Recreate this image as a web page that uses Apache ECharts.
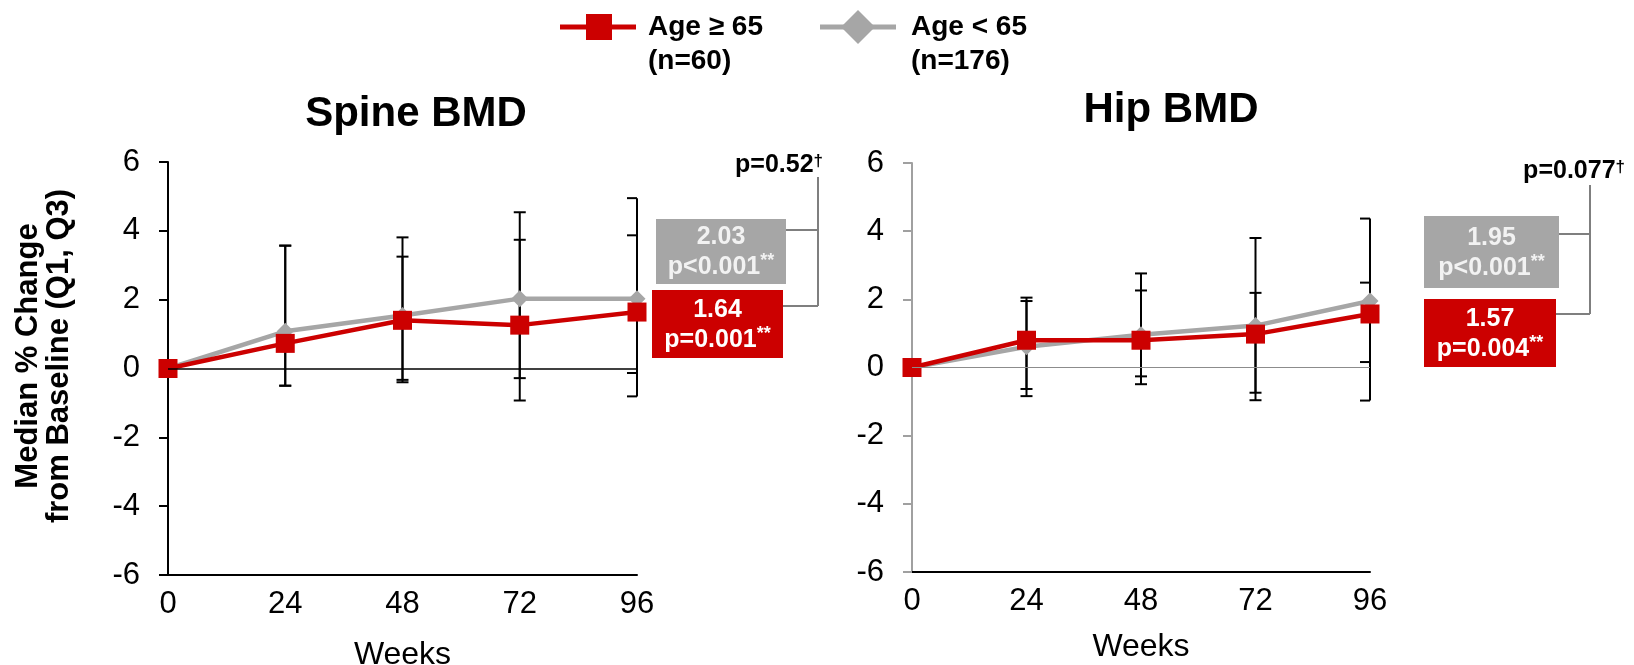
<!DOCTYPE html>
<html>
<head>
<meta charset="utf-8">
<script src="https://cdn.jsdelivr.net/npm/echarts@6/dist/echarts.min.js"></script>
<style>
html,body{margin:0;padding:0;background:#fff;}
#chart{width:1634px;height:665px;}
</style>
</head>
<body>
<div id="chart"></div>
<script>
// ---- data ----
const weeks = [0, 24, 48, 72, 96];
const seriesNames = ['Age \u2265 65', 'Age < 65'];
const seriesN = ['(n=60)', '(n=176)'];
const panelTitles = ['Spine BMD', 'Hip BMD'];

const spineAge65Plus  = [0, 0.73, 1.40, 1.26, 1.64];
const spineAgeUnder65 = [0, 1.08, 1.54, 2.03, 2.03];
const hipAge65Plus    = [0, 0.80, 0.80, 0.98, 1.57];
const hipAgeUnder65   = [0, 0.61, 0.96, 1.23, 1.95];

// Q1 / Q3 (null = no bar)
const spineQ1_65Plus  = [null, -0.50, -0.40, -0.93, -0.81];
const spineQ3_65Plus  = [null,  3.57,  3.81,  4.54,  4.95];
const spineQ1_Under65 = [null, -0.50, -0.33, -0.28, -0.13];
const spineQ3_Under65 = [null,  3.57,  3.25,  3.74,  3.87];
const hipQ1_65Plus    = [null, -0.84, -0.49, -0.96, -0.97];
const hipQ3_65Plus    = [null,  2.05,  2.76,  3.80,  4.37];
const hipQ1_Under65   = [null, -0.63, -0.26, -0.74,  0.16];
const hipQ3_Under65   = [null,  1.95,  2.26,  2.19,  2.49];

// end-of-study annotations
const spineLabels = ['1.64', 'p=0.001', '2.03', 'p<0.001', 'p=0.52'];
const hipLabels   = ['1.57', 'p=0.004', '1.95', 'p<0.001', 'p=0.077'];

// ---- styling ----
const FONT = '"Liberation Sans", Arial, sans-serif';
const RED = '#cc0000';
const GRAY = '#a6a6a6';

function pairs(xs, ys){ return xs.map((x,i)=>[x, ys[i]]); }
function bars(xs, lo, hi){
  const out = [];
  xs.forEach((x,i)=>{ if (lo[i] !== null) out.push([x, lo[i], hi[i]]); });
  return out;
}

function errRender(params, api){
  const x = api.value(0), lo = api.value(1), hi = api.value(2);
  const a = api.coord([x, lo]), b = api.coord([x, hi]);
  const last = x === weeks[weeks.length-1];
  const l = last ? 10 : 6, r = last ? 0 : 6;
  const st = {stroke:'#000', lineWidth:2};
  return {type:'group', children:[
    {type:'line', shape:{x1:a[0], y1:a[1], x2:b[0], y2:b[1]}, style:st},
    {type:'line', shape:{x1:a[0]-l, y1:a[1], x2:a[0]+r, y2:a[1]}, style:st},
    {type:'line', shape:{x1:b[0]-l, y1:b[1], x2:b[0]+r, y2:b[1]}, style:st}
  ]};
}

function xAxisCfg(idx, gap){
  return {
    type:'value', gridIndex:idx, min:0, max:96, interval:24,
    name:'Weeks', nameLocation:'middle', nameGap:gap,
    nameTextStyle:{fontSize:32, color:'#000', fontFamily:FONT},
    axisLine:{onZero:false, lineStyle:{color:'#000', width:2}},
    axisTick:{show:false},
    axisLabel:{fontSize:31, color:'#000', fontFamily:FONT, margin:14},
    splitLine:{show:false}
  };
}
function yAxisCfg(idx, col){
  return {
    type:'value', gridIndex:idx, min:-6, max:6, interval:2,
    axisLine:{show:true, lineStyle:{color:col, width:2}},
    axisTick:{show:true, length:9, lineStyle:{color:col, width:2}},
    axisLabel:{fontSize:31, color:'#000', fontFamily:FONT, margin:28},
    splitLine:{show:false}
  };
}

function panelSeries(idx, old, young, q1o, q3o, q1y, q3y, zeroCol, zeroW){
  return [
    {type:'custom', xAxisIndex:idx, yAxisIndex:idx, z:1, renderItem:errRender,
     encode:{x:0, y:[1,2]}, data:bars(weeks, q1o, q3o), silent:true,
     markLine:{silent:true, symbol:'none', label:{show:false},
       lineStyle:{color:zeroCol, width:zeroW, type:'solid'}, data:[{yAxis:0}]}},
    {type:'custom', xAxisIndex:idx, yAxisIndex:idx, z:1, renderItem:errRender,
     encode:{x:0, y:[1,2]}, data:bars(weeks, q1y, q3y), silent:true},
    {name:seriesNames[1], type:'line', xAxisIndex:idx, yAxisIndex:idx, z:3,
     data:pairs(weeks, young), symbol:'diamond', symbolSize:17,
     lineStyle:{color:GRAY, width:4.5}, itemStyle:{color:GRAY}},
    {name:seriesNames[0], type:'line', xAxisIndex:idx, yAxisIndex:idx, z:4,
     data:pairs(weeks, old), symbol:'rect', symbolSize:19,
     lineStyle:{color:RED, width:4.5}, itemStyle:{color:RED}}
  ];
}

function statBox(x, y, w, h, fill, txtCol, num, p){
  return {type:'group', children:[
    {type:'rect', shape:{x:x, y:y, width:w, height:h}, style:{fill:fill}},
    {type:'text', x:x+w/2, y:y+h/2+1, style:{
      text:num + '\n' + p + '{s|**}', align:'center', verticalAlign:'middle',
      fill:txtCol, fontSize:25, fontWeight:'bold', fontFamily:FONT, lineHeight:30,
      rich:{s:{fontSize:18, fontWeight:'bold', fill:txtCol, fontFamily:FONT, verticalAlign:'top', lineHeight:30}}
    }}
  ]};
}
function bracket(xl1, xl2, xv, y1, y2, ytop){
  const st = {stroke:'#7f7f7f', lineWidth:2, fill:null};
  return {type:'group', children:[
    {type:'polyline', shape:{points:[[xl1,y1],[xv,y1]]}, style:st},
    {type:'polyline', shape:{points:[[xl2,y2],[xv,y2]]}, style:st},
    {type:'polyline', shape:{points:[[xv,ytop],[xv,y2]]}, style:st}
  ]};
}
function pText(xRight, yc, t){
  return {type:'text', x:xRight, y:yc, style:{
    text:t + '{d|\u2020}', align:'right', verticalAlign:'middle', fill:'#000',
    fontSize:25, fontWeight:'bold', fontFamily:FONT,
    rich:{d:{fontSize:17, fontWeight:'bold', fill:'#000', fontFamily:FONT, verticalAlign:'top'}}
  }};
}

const legendGraphic = {type:'group', children:[
  {type:'line', shape:{x1:560, y1:27, x2:636, y2:27}, style:{stroke:RED, lineWidth:5}},
  {type:'rect', shape:{x:586, y:14, width:26, height:26}, style:{fill:RED}},
  {type:'text', x:648, y:27, style:{text:seriesNames[0], fontSize:28, fontWeight:'bold', fontFamily:FONT, fill:'#000', verticalAlign:'middle'}},
  {type:'text', x:648, y:61, style:{text:seriesN[0], fontSize:28, fontWeight:'bold', fontFamily:FONT, fill:'#000', verticalAlign:'middle'}},
  {type:'line', shape:{x1:820, y1:27, x2:896, y2:27}, style:{stroke:GRAY, lineWidth:5}},
  {type:'polygon', shape:{points:[[858,10],[875,27],[858,44],[841,27]]}, style:{fill:GRAY}},
  {type:'text', x:911, y:27, style:{text:seriesNames[1], fontSize:28, fontWeight:'bold', fontFamily:FONT, fill:'#000', verticalAlign:'middle'}},
  {type:'text', x:911, y:61, style:{text:seriesN[1], fontSize:28, fontWeight:'bold', fontFamily:FONT, fill:'#000', verticalAlign:'middle'}}
]};

const chart = echarts.init(document.getElementById('chart'), null, {renderer:'canvas'});
chart.setOption({
  animation:false,
  backgroundColor:'#fff',
  title:[
    {text:panelTitles[0], left:411, top:88, textAlign:'center',
     textStyle:{fontSize:42, fontWeight:'bold', color:'#000', fontFamily:FONT}},
    {text:panelTitles[1], left:1166, top:84, textAlign:'center',
     textStyle:{fontSize:42, fontWeight:'bold', color:'#000', fontFamily:FONT}}
  ],
  grid:[
    {left:168, top:162, width:469, height:413, outerBoundsMode:'none', containLabel:false},
    {left:912, top:163, width:458, height:409, outerBoundsMode:'none', containLabel:false}
  ],
  xAxis:[xAxisCfg(0, 64), xAxisCfg(1, 59)],
  yAxis:[yAxisCfg(0,'#000'), yAxisCfg(1,'#a0a0a0')],
  series:[].concat(
    panelSeries(0, spineAge65Plus, spineAgeUnder65, spineQ1_65Plus, spineQ3_65Plus, spineQ1_Under65, spineQ3_Under65, '#000', 1.5),
    panelSeries(1, hipAge65Plus, hipAgeUnder65, hipQ1_65Plus, hipQ3_65Plus, hipQ1_Under65, hipQ3_Under65, '#8c8c8c', 1.2)
  ),
  graphic:[
    legendGraphic,
    {type:'text', x:44, y:356, rotation:Math.PI/2, style:{
      text:'Median % Change\nfrom Baseline (Q1, Q3)', align:'center', verticalAlign:'middle',
      fontSize:31, fontWeight:'bold', fontFamily:FONT, fill:'#000', lineHeight:31}},
    statBox(656, 219, 130, 65, GRAY, '#f2f2f2', spineLabels[2], spineLabels[3]),
    statBox(652, 290, 131, 68, RED, '#ffffff', spineLabels[0], spineLabels[1]),
    bracket(786, 783, 818, 230, 306, 177),
    pText(823, 165, spineLabels[4]),
    statBox(1424, 216, 135, 72, GRAY, '#f2f2f2', hipLabels[2], hipLabels[3]),
    statBox(1424, 299, 132, 68, RED, '#ffffff', hipLabels[0], hipLabels[1]),
    bracket(1559, 1556, 1590, 234, 314, 185),
    pText(1625, 171, hipLabels[4])
  ]
});
</script>
</body>
</html>
